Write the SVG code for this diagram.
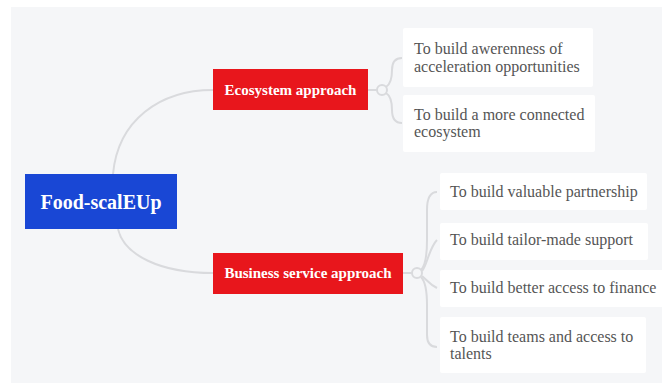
<svg xmlns="http://www.w3.org/2000/svg" width="662" height="383" viewBox="0 0 662 383">
<style>
.bg{fill:#f5f6f8}
.root{fill:#1947d5}
.main{fill:#e8161c}
.leaf{fill:#ffffff}
.conn{fill:none;stroke:#d9dadd;stroke-width:2}
.dot{fill:#f5f6f8;stroke:#d9dadd;stroke-width:2}
.troot{font-family:"Liberation Serif","DejaVu Serif",serif;font-size:20px;font-weight:bold;fill:#ffffff;text-anchor:middle}
.tmain{font-family:"Liberation Serif","DejaVu Serif",serif;font-size:15px;font-weight:bold;fill:#ffffff;text-anchor:middle}
.tleaf{font-family:"Liberation Serif","DejaVu Serif",serif;font-size:16px;fill:#555555}
</style>
<rect x="0" y="0" width="662" height="383" fill="#ffffff"/>
<rect class="bg" x="11" y="7" width="651" height="376"/>
<g id="connectors">
<path class="conn" d="M113,174 C118,120 160,90 213,90"/>
<path class="conn" d="M118,229 C124,255 160,273 213,273"/>
<path class="conn" d="M368,90 L377,90"/>
<path class="conn" d="M386,87 C391,84 392,78 392,70 C392,62 395,58 402,58"/>
<path class="conn" d="M386,93 C391,96 392,102 392,110 C392,118 395,123 402,123"/>
<path class="conn" d="M403,273 L412,273"/>
<path class="conn" d="M421,270 C425,266 427,258 427,240 L427,210 C427,198 430,192 437,192"/>
<path class="conn" d="M422,271 C427,266 429,248 437,240"/>
<path class="conn" d="M422,276 C427,280 429,284 437,288"/>
<path class="conn" d="M421,277 C425,281 427,290 427,305 L427,335 C427,343 430,347 437,347"/>
<circle class="dot" cx="382" cy="90" r="5"/>
<circle class="dot" cx="417" cy="273" r="5"/>
</g>
<g id="root">
<rect class="root" x="25" y="174" width="152" height="55"/>
<text class="troot" x="101" y="209">Food-scalEUp</text>
</g>
<g id="eco">
<rect class="main" x="213" y="69" width="155" height="41"/>
<text class="tmain" x="290.5" y="95">Ecosystem approach</text>
</g>
<g id="biz">
<rect class="main" x="213" y="253" width="190" height="41"/>
<text class="tmain" x="308" y="278">Business service approach</text>
</g>
<g id="eco1">
<rect class="leaf" x="403" y="28" width="190" height="59" rx="2"/>
<text class="tleaf" x="414" y="54">To build awerenness of</text>
<text class="tleaf" x="414" y="72">acceleration opportunities</text>
</g>
<g id="eco2">
<rect class="leaf" x="403" y="95" width="192" height="57" rx="2"/>
<text class="tleaf" x="414" y="120">To build a more connected</text>
<text class="tleaf" x="414" y="137">ecosystem</text>
</g>
<g id="biz1">
<rect class="leaf" x="440" y="173" width="207" height="37" rx="2"/>
<text class="tleaf" x="450" y="197">To build valuable partnership</text>
</g>
<g id="biz2">
<rect class="leaf" x="440" y="223" width="208" height="37" rx="2"/>
<text class="tleaf" x="450" y="245">To build tailor-made support</text>
</g>
<g id="biz3">
<rect class="leaf" x="440" y="270" width="226" height="37" rx="2"/>
<text class="tleaf" x="450" y="293">To build better access to finance</text>
</g>
<g id="biz4">
<rect class="leaf" x="440" y="317" width="206" height="56" rx="2"/>
<text class="tleaf" x="450" y="342">To build teams and access to</text>
<text class="tleaf" x="450" y="359">talents</text>
</g>
</svg>
